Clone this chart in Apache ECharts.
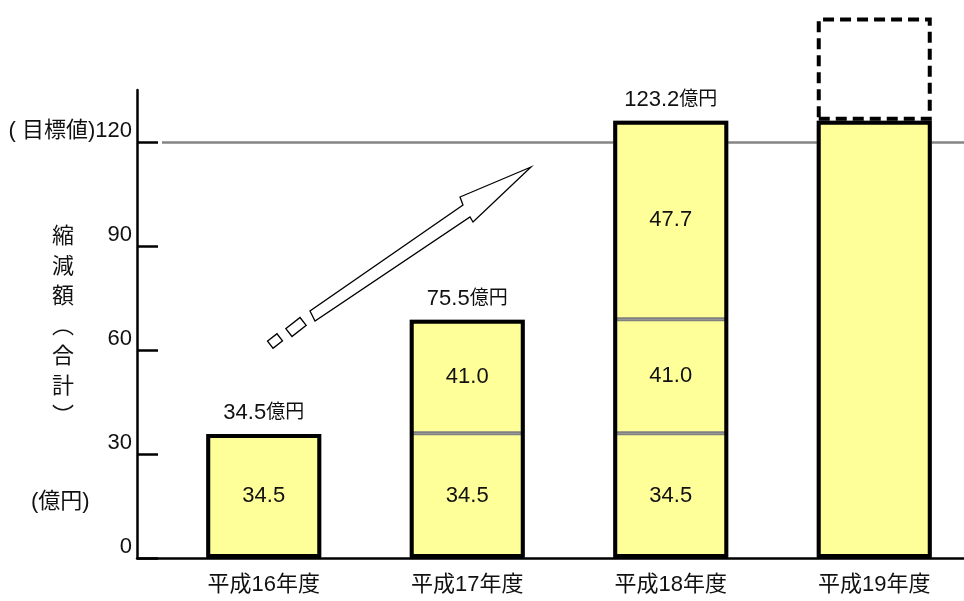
<!DOCTYPE html>
<html>
<head>
<meta charset="utf-8">
<script src="https://cdn.jsdelivr.net/npm/echarts@6/dist/echarts.min.js"></script>
<style>
  html, body { margin: 0; padding: 0; background: #fff; }
  #chart { width: 964px; height: 601px; }
</style>
</head>
<body>
<div id="chart"></div>
<script>
// 縮減額 data (bar heights as drawn, labels as printed)
const categories = ['平成16年度', '平成17年度', '平成18年度', '平成19年度'];
const seg1 = [35.8, 36.0, 36.0, 126.1];
const seg2 = [null, 32.7, 32.9, null];
const seg3 = [null, null, 57.2, null];
const planned = [null, null, null, 29.8];
const seg1Text = ['34.5', '34.5', '34.5', ''];
const seg2Text = ['', '41.0', '41.0', ''];
const seg3Text = ['', '', '47.7', ''];
const totalText = ['34.5', '75.5', '123.2', ''];
const yTicks = [0, 30, 60, 90, 120];
const targetValue = 120;

const FONT = "'Liberation Sans', 'Noto Sans CJK JP', sans-serif";
const YELLOW = '#FFFF99';

const totals = categories.map((c, i) => (seg1[i] || 0) + (seg2[i] || 0) + (seg3[i] || 0));

function segSeries(data, texts, withMark) {
  const s = {
    type: 'bar',
    stack: 'seg',
    data: data,
    barWidth: 115,
    barGap: '-100%',
    clip: false,
    z: 2,
    itemStyle: { color: YELLOW, borderColor: '#808080', borderWidth: 2 },
    label: {
      show: true,
      position: 'inside',
      fontFamily: FONT,
      fontSize: 22,
      color: '#111',
      formatter: p => texts[p.dataIndex]
    }
  };
  if (withMark) {
    s.markLine = {
      z: 1,
      silent: true,
      symbol: 'none',
      label: { show: false },
      lineStyle: { color: '#858585', width: 2.5, type: 'solid' },
      data: [{ yAxis: targetValue }]
    };
  }
  return s;
}

const chart = echarts.init(document.getElementById('chart'));

chart.setOption({
  animation: false,
  textStyle: { fontFamily: FONT },
  grid: [
    { left: 162, width: 814, top: 90, bottom: 43, outerBoundsMode: 'none' },
    { left: 137, right: 0, top: 90, bottom: 43, outerBoundsMode: 'none' }
  ],
  xAxis: [
    {
      type: 'category',
      gridIndex: 0,
      data: categories,
      axisLine: { show: false },
      axisTick: { show: false },
      axisLabel: { fontFamily: FONT, fontSize: 22, color: '#111', margin: 16 }
    },
    {
      type: 'value',
      gridIndex: 1,
      min: 0,
      max: 1,
      axisLine: { show: true, onZero: false, lineStyle: { color: '#000', width: 2.5 } },
      axisTick: { show: false },
      axisLabel: { show: false },
      splitLine: { show: false }
    }
  ],
  yAxis: [
    {
      type: 'value',
      gridIndex: 0,
      min: 0,
      max: 135,
      show: false,
      splitLine: { show: false }
    },
    {
      type: 'value',
      gridIndex: 1,
      min: 0,
      max: 135,
      axisLine: { show: true, lineStyle: { color: '#000', width: 2.5 } },
      axisTick: {
        show: true,
        inside: true,
        length: 21,
        customValues: yTicks,
        lineStyle: { color: '#000', width: 2.5 }
      },
      axisLabel: {
        customValues: yTicks,
        fontFamily: FONT,
        fontSize: 22,
        color: '#111',
        margin: 5,
        verticalAlign: 'bottom',
        formatter: v => (v === targetValue ? '( 目標値)' + v : String(v))
      },
      splitLine: { show: false }
    }
  ],
  series: [
    segSeries(seg1, seg1Text, true),
    segSeries(seg2, seg2Text, false),
    segSeries(seg3, seg3Text, false),
    {
      type: 'bar',
      stack: 'out',
      data: totals,
      barWidth: 115,
      barGap: '-100%',
      clip: false,
      z: 3,
      itemStyle: { color: 'rgba(0,0,0,0)', borderColor: '#000', borderWidth: 4 },
      label: {
        show: true,
        position: 'top',
        distance: 10,
        formatter: p => (totalText[p.dataIndex] ? '{n|' + totalText[p.dataIndex] + '}{u|億円}' : ''),
        rich: {
          n: { fontFamily: FONT, fontSize: 22, color: '#111' },
          u: { fontFamily: FONT, fontSize: 19, color: '#111' }
        }
      }
    },
    {
      type: 'bar',
      stack: 'out',
      data: planned,
      barWidth: 115,
      barGap: '-100%',
      clip: false,
      z: 3,
      itemStyle: {
        color: 'rgba(0,0,0,0)',
        borderColor: '#000',
        borderWidth: 4,
        borderType: [11, 6]
      }
    }
  ],
  graphic: [
    {
      type: 'text',
      left: 52,
      top: 220,
      style: {
        text: '縮\n減\n額\n︵\n合\n計\n︶',
        font: "22px 'Noto Sans CJK JP', sans-serif",
        lineHeight: 30,
        fill: '#111',
        align: 'center'
      }
    },
    {
      type: 'text',
      left: 31,
      top: 491,
      style: {
        text: '(億円)',
        font: "22px 'Liberation Sans', 'Noto Sans CJK JP', sans-serif",
        fill: '#111'
      }
    },
    {
      type: 'polygon',
      z: 10,
      shape: {
        points: [[531, 167], [460, 197], [463, 205], [310, 311], [315, 321], [470, 217], [473, 222]]
      },
      style: { fill: '#fff', stroke: '#000', lineWidth: 1.3 }
    },
    {
      type: 'rect',
      z: 10,
      x: 296, y: 327,
      rotation: 38 * Math.PI / 180,
      shape: { x: -9, y: -5, width: 18, height: 10 },
      style: { fill: '#fff', stroke: '#000', lineWidth: 1.3 }
    },
    {
      type: 'rect',
      z: 10,
      x: 275, y: 341,
      rotation: 38 * Math.PI / 180,
      shape: { x: -6, y: -4.5, width: 12, height: 9 },
      style: { fill: '#fff', stroke: '#000', lineWidth: 1.3 }
    }
  ]
});
</script>
</body>
</html>
